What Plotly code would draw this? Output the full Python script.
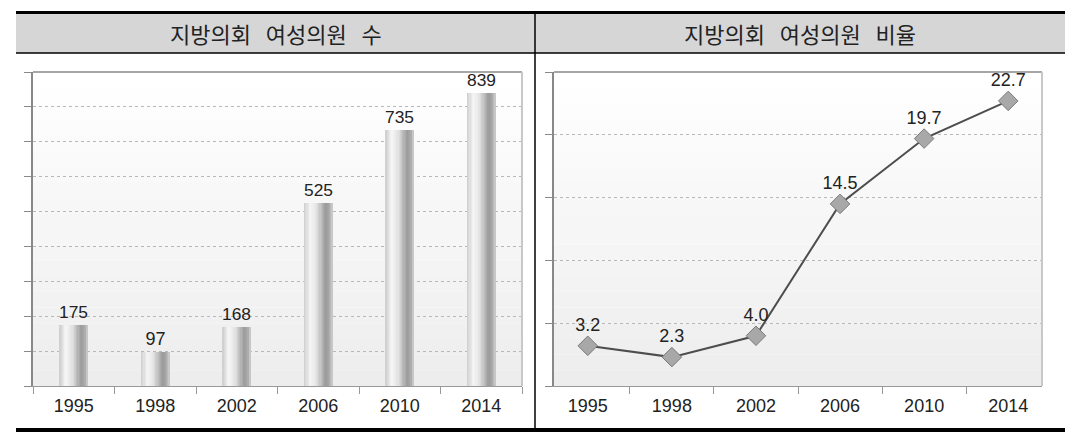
import plotly.graph_objects as go

years = ["1995", "1998", "2002", "2006", "2010", "2014"]
counts = [175, 97, 168, 525, 735, 839]
ratios = [3.2, 2.3, 4.0, 14.5, 19.7, 22.7]
title_left = "지방의회 여성의원 수"
title_right = "지방의회 여성의원 비율"

W, H = 1065, 438
def px(x):
    return x / W
def py(y):
    return 1 - y / H

NUMFONT = "Liberation Sans Narrow, Arial Narrow, Liberation Sans, Arial"

fig = go.Figure()

# cylinder-like bar shading built from overlapping strips
BW = 0.35
N = 24
def shade(t):
    stops = [(0.0, 205), (0.22, 246), (0.45, 225), (0.75, 155), (0.88, 168), (1.0, 205)]
    for (t0, c0), (t1, c1) in zip(stops[:-1], stops[1:]):
        if t0 <= t <= t1:
            c = c0 + (c1 - c0) * (t - t0) / (t1 - t0)
            c = int(round(c))
            return f"rgb({c},{c},{c})"
    return "rgb(200,200,200)"

for i in range(N):
    t = i / N
    off = -BW / 2 + BW * t
    fig.add_trace(go.Bar(
        x=years, y=counts, xaxis="x", yaxis="y",
        width=[BW * (1 - t)] * len(years), offset=[off] * len(years),
        marker=dict(color=shade(t + 0.5 / N), line=dict(width=0)),
        hoverinfo="skip", showlegend=False,
    ))
# labels
fig.add_trace(go.Bar(
    x=years, y=counts, xaxis="x", yaxis="y",
    width=[BW] * len(years),
    marker=dict(color="rgba(0,0,0,0)", line=dict(width=0)),
    text=[str(v) for v in counts], textposition="outside",
    textfont=dict(family=NUMFONT, size=18, color="#222"),
    cliponaxis=False, showlegend=False,
))

fig.add_trace(go.Scatter(
    x=years, y=ratios, xaxis="x2", yaxis="y2",
    mode="lines+markers+text",
    line=dict(color="#4d4d4d", width=2),
    marker=dict(symbol="diamond", size=15, color="#a8a8a8", line=dict(color="#7a7a7a", width=1)),
    text=[f"{v:.1f}" for v in ratios], textposition="top center",
    textfont=dict(family=NUMFONT, size=18, color="#222"),
    cliponaxis=False, showlegend=False,
))

ydom = [py(386), py(72)]
common_x = dict(
    type="category", tickson="boundaries", ticks="outside", ticklen=7,
    tickcolor="#999", tickwidth=1.2, showline=True, linecolor="#999", linewidth=1.2,
    showgrid=False, tickfont=dict(family=NUMFONT, size=18, color="#222"),
    ticklabelstandoff=3, mirror=False, fixedrange=True,
)
common_y = dict(
    ticks="outside", ticklen=7, tickcolor="#888", tickwidth=1.2,
    showline=True, linecolor="#888", linewidth=1.5, showticklabels=False,
    showgrid=True, gridcolor="#b8b8b8", griddash="dot", gridwidth=1,
    zeroline=False, domain=ydom, fixedrange=True,
)

fig.update_layout(
    width=W, height=H, margin=dict(l=0, r=0, t=0, b=0),
    paper_bgcolor="white", plot_bgcolor="rgba(0,0,0,0)",
    barmode="overlay", bargap=0,
    xaxis=dict(domain=[px(33), px(522)], anchor="y", **common_x),
    yaxis=dict(range=[0, 900], dtick=100, anchor="x", **common_y),
    xaxis2=dict(domain=[px(554), px(1042)], anchor="y2", **common_x),
    yaxis2=dict(range=[0, 25], dtick=5, anchor="x2", **common_y),
)

shapes = []
for (x0, x1) in [(33, 522), (554, 1042)]:
    nb = 20
    for k in range(nb):
        ya = 72 + (386 - 72) * k / nb
        yb = 72 + (386 - 72) * (k + 1) / nb
        c = int(round(255 - 18 * (k / (nb - 1))))
        shapes.append(dict(type="rect", xref="paper", yref="paper", layer="below",
                           x0=px(x0), x1=px(x1), y0=py(yb), y1=py(ya),
                           fillcolor=f"rgb({c},{c},{c})", line=dict(width=0)))
    shapes.append(dict(type="line", xref="paper", yref="paper", layer="above",
                       x0=px(x0), x1=px(x1), y0=py(72), y1=py(72),
                       line=dict(color="#8a8a8a", width=1.5)))
    shapes.append(dict(type="line", xref="paper", yref="paper", layer="above",
                       x0=px(x1), x1=px(x1), y0=py(72), y1=py(386),
                       line=dict(color="#c8c8c8", width=2)))

# table frame
shapes.append(dict(type="rect", xref="paper", yref="paper", x0=px(16), x1=1,
                   y0=py(53), y1=py(14), fillcolor="#d6d6d6", line=dict(width=0), layer="below"))
shapes.append(dict(type="rect", xref="paper", yref="paper", x0=px(16), x1=1,
                   y0=py(14), y1=py(11), fillcolor="black", line=dict(width=0)))
shapes.append(dict(type="line", xref="paper", yref="paper", x0=px(16), x1=1,
                   y0=py(53), y1=py(53), line=dict(color="black", width=1.5)))
shapes.append(dict(type="line", xref="paper", yref="paper", x0=px(535), x1=px(535),
                   y0=py(428), y1=py(14), line=dict(color="black", width=1.5)))
shapes.append(dict(type="rect", xref="paper", yref="paper", x0=px(16), x1=1,
                   y0=py(432), y1=py(428), fillcolor="black", line=dict(width=0)))
fig.update_layout(shapes=shapes)

sp = "\u00a0\u00a0\u00a0"
for txt, xc in [(title_left, 275.5), (title_right, 800)]:
    fig.add_annotation(text=txt.replace(" ", sp), xref="paper", yref="paper",
                       x=px(xc), y=py(33), showarrow=False, xanchor="center", yanchor="middle",
                       font=dict(family="Noto Sans CJK KR", size=22, color="#222"))

fig.write_html("out.html")
